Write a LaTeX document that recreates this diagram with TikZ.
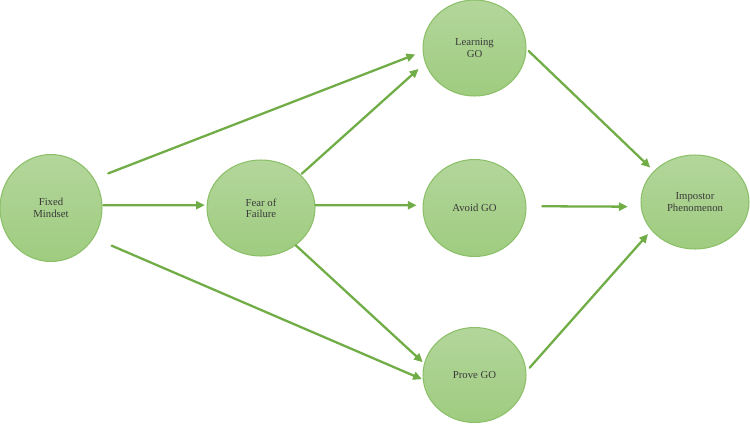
\documentclass[tikz,border=0pt]{standalone}
\usepackage{fontspec}
\setmainfont{Liberation Serif}
\usepackage{xcolor}
\usetikzlibrary{shapes.geometric,arrows.meta}
\definecolor{arrowgreen}{HTML}{70AD47}
\definecolor{rimgreen}{HTML}{8CC068}
\definecolor{topgreen}{HTML}{B3D69B}
\definecolor{botgreen}{HTML}{9FCC80}
\definecolor{inkgray}{HTML}{3A3A3A}

\tikzset{
	bubble/.style={ellipse, draw=rimgreen, line width=0.6pt,
		top color=topgreen, bottom color=botgreen, text=inkgray,
		minimum width=2.06cm, minimum height=1.92cm, inner sep=0pt,
		align=center, font=\fontsize{6.1}{6.5}\selectfont},
	link/.style={draw=arrowgreen, line width=1.3pt,
		-{Triangle[length=5pt,width=4.6pt]}}
}

\begin{document}
\begin{tikzpicture}[
		x=0.02cm, y=-0.02cm,
		line cap=round,
		line join=round
		]
		\useasboundingbox (0,0) rectangle (750,423);
		
		% goal orientations
		\node[bubble, minimum height=2.14cm, minimum width=2.04cm] (fixed) at (51,208) {Fixed\\Mindset};
		\node[bubble, minimum width=2.16cm] (fear) at (261,208) {Fear of\\Failure};
		\node[bubble] (learn) at (474.5,48) {Learning\\GO};
		\node[bubble, minimum height=1.94cm] (avoid) at (474.5,208) {Avoid GO};
		\node[bubble, minimum height=1.9cm] (prove) at (474.5,375) {Prove GO};
		\node[bubble, minimum width=2.16cm, minimum height=1.88cm] (impostor) at (695,202) {Impostor\\Phenomenon};
		
		% paths
		\draw[link, shorten <=8.5pt, shorten >=4.5pt] (fixed.34.6) -- (learn.184.8);
		\draw[link, shorten <=0.5pt, shorten >=1pt] (fixed.3) -- (fear.177);
		\draw[link, shorten <=11pt, shorten >=0.5pt] (fixed.-35.4) -- (prove.185.5);
		\draw[link, shorten <=0.8pt, shorten >=5pt] (fear.40.4) -- (learn.197.4);
		\draw[link, shorten >=3.4pt] (fear.3) -- (avoid.177);
		\draw[link, shorten >=1pt] (fear.-47.6) -- (prove.167);
		\draw[link, shorten <=1.7pt, shorten >=2.8pt] (learn.-1) -- (impostor.143);
		\draw[link, shorten <=9pt, shorten >=7.4pt] (avoid.2.5) -- (impostor.185.5);
		\draw[link, shorten <=2.8pt, shorten >=2.8pt] (prove.4) -- (impostor.213.4);
		
	\end{tikzpicture}
\end{document}
